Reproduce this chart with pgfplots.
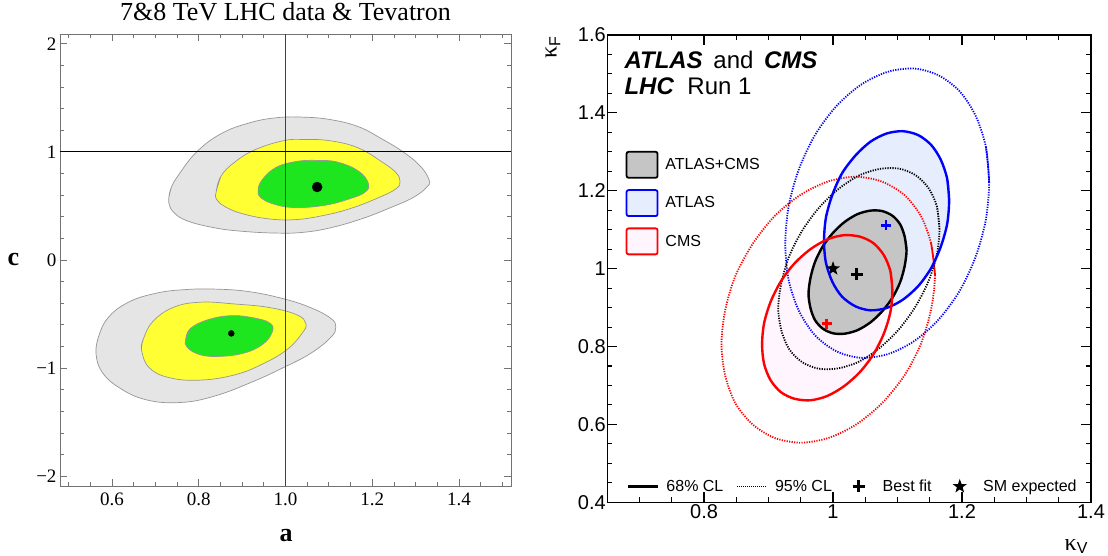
\documentclass[border=0pt]{standalone}
\usepackage{fontspec}
\setmainfont{Liberation Sans}
\newfontfamily\timesfont{Liberation Serif}
\usepackage{pgfplots}
\usepackage{pgfplotstable}
\pgfplotsset{compat=1.18}

\definecolor{mgray}{RGB}{229,229,229}
\definecolor{medge}{RGB}{150,150,150}
\definecolor{myellow}{RGB}{255,255,51}
\definecolor{mgreen}{RGB}{30,230,30}
\definecolor{rgray}{RGB}{197,197,197}
\definecolor{rblue}{RGB}{230,237,252}
\definecolor{rpink}{RGB}{254,245,254}

\pgfdeclareplotmark{fstar}{%
 \pgfpathmoveto{\pgfpointpolar{90}{\pgfplotmarksize}}%
 \pgfpathlineto{\pgfpointpolar{126}{0.4\pgfplotmarksize}}%
 \pgfpathlineto{\pgfpointpolar{162}{\pgfplotmarksize}}%
 \pgfpathlineto{\pgfpointpolar{198}{0.4\pgfplotmarksize}}%
 \pgfpathlineto{\pgfpointpolar{234}{\pgfplotmarksize}}%
 \pgfpathlineto{\pgfpointpolar{270}{0.4\pgfplotmarksize}}%
 \pgfpathlineto{\pgfpointpolar{306}{\pgfplotmarksize}}%
 \pgfpathlineto{\pgfpointpolar{342}{0.4\pgfplotmarksize}}%
 \pgfpathlineto{\pgfpointpolar{18}{\pgfplotmarksize}}%
 \pgfpathlineto{\pgfpointpolar{54}{0.4\pgfplotmarksize}}%
 \pgfpathclose\pgfusepathqfill}

% ---------- left panel contours (a, c) ----------
\pgfplotstableread{
x y
0.731 0.577
0.737 0.675
0.757 0.807
0.796 1.003
0.851 1.167
0.915 1.266
0.978 1.315
1.041 1.321
1.104 1.298
1.168 1.233
1.223 1.118
1.270 1.003
1.310 0.872
1.331 0.741
1.326 0.675
1.294 0.577
1.239 0.479
1.175 0.380
1.104 0.298
1.041 0.256
0.978 0.249
0.899 0.266
0.836 0.298
0.772 0.364
0.741 0.446
0.731 0.528
0.731 0.577
0.737 0.675
}\upGray
\pgfplotstableread{
x y
0.840 0.626
0.851 0.774
0.883 0.905
0.930 1.020
0.994 1.102
1.041 1.115
1.104 1.102
1.168 1.036
1.223 0.905
1.255 0.807
1.264 0.725
1.255 0.659
1.215 0.577
1.152 0.479
1.089 0.413
1.025 0.374
0.962 0.380
0.899 0.430
0.860 0.495
0.841 0.561
0.840 0.626
0.851 0.774
}\upYellow
\pgfplotstableread{
x y
0.937 0.659
0.946 0.741
0.978 0.856
1.025 0.911
1.073 0.921
1.120 0.905
1.168 0.823
1.191 0.708
1.183 0.626
1.144 0.561
1.089 0.505
1.025 0.485
0.978 0.511
0.943 0.577
0.937 0.659
0.946 0.741
}\upGreen
\pgfplotstableread{
x y
0.563 -0.866
0.567 -0.734
0.590 -0.538
0.638 -0.390
0.701 -0.308
0.764 -0.275
0.836 -0.269
0.915 -0.292
0.994 -0.357
1.057 -0.439
1.104 -0.538
1.116 -0.620
1.104 -0.718
1.057 -0.866
0.994 -0.997
0.923 -1.128
0.836 -1.259
0.757 -1.318
0.678 -1.292
0.615 -1.177
0.576 -1.030
0.563 -0.866
0.567 -0.734
}\loGray
\pgfplotstableread{
x y
0.668 -0.833
0.672 -0.734
0.694 -0.570
0.741 -0.439
0.804 -0.390
0.883 -0.407
0.962 -0.439
1.025 -0.505
1.047 -0.587
1.037 -0.685
1.002 -0.833
0.946 -0.964
0.883 -1.062
0.804 -1.111
0.733 -1.089
0.686 -0.997
0.668 -0.833
0.672 -0.734
}\loYellow
\pgfplotstableread{
x y
0.770 -0.734
0.780 -0.636
0.820 -0.554
0.875 -0.515
0.930 -0.538
0.965 -0.587
0.969 -0.669
0.946 -0.784
0.899 -0.866
0.836 -0.892
0.796 -0.866
0.772 -0.800
0.770 -0.734
0.780 -0.636
}\loGreen

% ---------- right panel contours (kappa_V, kappa_F) ----------
\pgfplotstableread{
x y
1.114 1.047
1.111 1.083
1.104 1.114
1.092 1.136
1.076 1.148
1.058 1.149
1.038 1.140
1.018 1.120
1.000 1.092
0.984 1.057
0.972 1.017
0.965 0.976
0.962 0.935
0.965 0.899
0.972 0.868
0.984 0.846
1.000 0.834
1.018 0.833
1.038 0.842
1.058 0.862
1.076 0.890
1.092 0.925
1.104 0.965
1.111 1.006
1.114 1.047
1.111 1.083
}\combS
\pgfplotstableread{
x y
1.180 1.175
1.177 1.231
1.167 1.280
1.152 1.318
1.132 1.343
1.108 1.353
1.083 1.347
1.058 1.326
1.035 1.291
1.014 1.245
0.999 1.190
0.989 1.131
0.986 1.071
0.989 1.015
0.999 0.966
1.014 0.928
1.035 0.903
1.058 0.893
1.083 0.899
1.108 0.920
1.132 0.955
1.152 1.001
1.167 1.056
1.177 1.115
1.180 1.175
1.177 1.231
}\atlasS
\pgfplotstableread{
x y
1.092 0.943
1.089 0.993
1.079 1.034
1.063 1.065
1.042 1.082
1.017 1.086
0.991 1.075
0.965 1.050
0.940 1.013
0.919 0.967
0.903 0.914
0.893 0.859
0.890 0.805
0.893 0.756
0.903 0.714
0.919 0.683
0.940 0.666
0.965 0.662
0.991 0.673
1.017 0.698
1.042 0.735
1.063 0.781
1.079 0.834
1.089 0.889
1.092 0.943
1.089 0.993
}\cmsS
\pgfplotstableread{
x y
1.165 1.101
1.161 1.160
1.148 1.207
1.128 1.240
1.102 1.257
1.072 1.256
1.040 1.239
1.008 1.204
0.978 1.156
0.952 1.097
0.932 1.032
0.920 0.964
0.915 0.899
0.920 0.841
0.932 0.793
0.952 0.760
0.978 0.743
1.008 0.744
1.040 0.761
1.072 0.796
1.102 0.844
1.128 0.903
1.148 0.968
1.161 1.036
1.165 1.101
1.161 1.160
}\combD
\pgfplotstableread{
x y
1.242 1.222
1.237 1.313
1.221 1.393
1.196 1.456
1.163 1.497
1.125 1.514
1.084 1.505
1.043 1.472
1.005 1.417
0.972 1.343
0.947 1.255
0.931 1.159
0.926 1.063
0.931 0.972
0.947 0.892
0.972 0.829
1.005 0.788
1.043 0.771
1.084 0.780
1.125 0.813
1.163 0.868
1.196 0.942
1.221 1.030
1.237 1.126
1.242 1.222
1.237 1.313
}\atlasD
\pgfplotstableread{
x y
1.158 0.983
1.152 1.065
1.136 1.136
1.110 1.190
1.075 1.224
1.035 1.236
0.9925 1.224
0.950 1.190
0.910 1.136
0.876 1.065
0.849 0.983
0.833 0.895
0.827 0.806
0.833 0.724
0.849 0.653
0.876 0.599
0.910 0.565
0.950 0.553
0.9925 0.565
1.035 0.599
1.075 0.653
1.110 0.724
1.136 0.806
1.152 0.895
1.158 0.983
1.152 1.065
}\cmsD

\begin{document}
\begin{tikzpicture}[x=1pt,y=1pt]
\path[use as bounding box] (0,0) rectangle (1108,555);

% ================= LEFT PANEL =================
\begin{axis}[
  at={(60pt,69pt)}, anchor=south west, scale only axis,
  width=451pt, height=452pt,
  xmin=0.48, xmax=1.52, ymin=-2.09, ymax=2.09,
  xtick={0.6,0.8,1,1.2,1.4}, xticklabels={0.6,0.8,1.0,1.2,1.4},
  ytick={-2,-1,0,1,2}, yticklabels={−2,−1,0,1,2},
  minor xtick={0.5,0.55,0.65,0.7,0.75,0.85,0.9,0.95,1.05,1.1,1.15,1.25,1.3,1.35,1.45,1.5},
  minor ytick={-1.8,-1.6,-1.4,-1.2,-0.8,-0.6,-0.4,-0.2,0.2,0.4,0.6,0.8,1.2,1.4,1.6,1.8},
  tick align=inside, major tick length=7pt, minor tick length=4pt,
  axis line style={draw=black!55, line width=0.9pt},
  every tick/.style={black!55, line width=0.8pt},
  /pgf/number format/assume math mode=true,
  ticklabel style={font=\timesfont\fontsize{19}{22}\selectfont},
  xticklabel style={yshift=-3pt},
]
\addplot[smooth, tension=0.7, fill=mgray, draw=medge, line width=0.7pt] table {\upGray};
\addplot[smooth, tension=0.7, fill=myellow, draw=medge, line width=0.7pt] table {\upYellow};
\addplot[smooth, tension=0.7, fill=mgreen, draw=medge, line width=0.7pt] table {\upGreen};
\addplot[smooth, tension=0.7, fill=mgray, draw=medge, line width=0.7pt] table {\loGray};
\addplot[smooth, tension=0.7, fill=myellow, draw=medge, line width=0.7pt] table {\loYellow};
\addplot[smooth, tension=0.7, fill=mgreen, draw=medge, line width=0.7pt] table {\loGreen};
\addplot[black!75, line width=0.8pt] coordinates {(1,-2.09) (1,2.09)};
\addplot[black, line width=0.8pt] coordinates {(0.48,1) (1.52,1)};
\addplot[only marks, mark=*, mark size=5pt, black] coordinates {(1.073,0.675)};
\addplot[only marks, mark=*, mark size=3pt, black] coordinates {(0.875,-0.679)};
\end{axis}

\node[anchor=base, font=\timesfont\fontsize{26}{30}\selectfont] at (285.5,534) {7\&8 TeV LHC data \& Tevatron};
\node[anchor=base, font=\timesfont\bfseries\fontsize{26}{30}\selectfont] at (286,13.3) {a};
\node[anchor=base, font=\timesfont\bfseries\fontsize{26}{30}\selectfont] at (13.3,290) {c};

% ================= RIGHT PANEL =================
\begin{axis}[
  at={(607.3pt,52.7pt)}, anchor=south west, scale only axis,
  width=483.7pt, height=467.3pt,
  xmin=0.65, xmax=1.4, ymin=0.4, ymax=1.6,
  xtick={0.8,1,1.2,1.4}, xticklabels={0.8,1,1.2,1.4},
  ytick={0.4,0.6,0.8,1,1.2,1.4,1.6}, yticklabels={0.4,0.6,0.8,1,1.2,1.4,1.6},
  minor xtick={0.7,0.75,0.85,0.9,0.95,1.05,1.1,1.15,1.25,1.3,1.35},
  minor ytick={0.45,0.5,0.55,0.65,0.7,0.75,0.85,0.9,0.95,1.05,1.1,1.15,1.25,1.3,1.35,1.45,1.5,1.55},
  tick align=inside, major tick length=10pt, minor tick length=5pt,
  axis line style={line width=1.4pt},
  every tick/.style={black, line width=1.1pt},
  /pgf/number format/assume math mode=true,
  ticklabel style={font=\fontsize{20}{24}\selectfont},
  xticklabel style={yshift=1pt},
  yticklabel style={xshift=2pt},
  legend cell align=left,
  legend style={at={(0.0407,0.035)}, anchor=west, draw=none, fill=none,
    inner sep=0pt, outer sep=0pt, font=\fontsize{16}{19}\selectfont,
    nodes={inner sep=0pt},
    /tikz/column 1/.style={column sep=7.3pt},
    /tikz/column 2/.style={column sep=12.8pt},
    /tikz/column 3/.style={column sep=7.3pt},
    /tikz/column 4/.style={column sep=20.8pt},
    /tikz/column 5/.style={column sep=18pt},
    /tikz/column 6/.style={column sep=21pt},
    /tikz/column 7/.style={column sep=16.3pt}},
  legend columns=4,
]
% fills
\addplot[smooth, fill=rblue, draw=none, forget plot] table {\atlasS};
\addplot[smooth, fill=rpink, draw=none, forget plot] table {\cmsS};
\addplot[smooth, fill=rgray, draw=none, forget plot] table {\combS};
% 95% CL dotted
\addplot[smooth, red, line width=1.8pt, dash pattern=on 1.2pt off 1.3pt, forget plot] table {\cmsD};
\addplot[smooth, blue, line width=1.8pt, dash pattern=on 1.2pt off 1.3pt, forget plot] table {\atlasD};
\addplot[smooth, black, line width=1.8pt, dash pattern=on 1.2pt off 1.3pt, forget plot] table {\combD};
% 68% CL solid
\addplot[smooth, black, line width=2.4pt, forget plot] table {\combS};
\addplot[smooth, blue, line width=2.4pt, forget plot] table {\atlasS};
\addplot[smooth, red, line width=2.4pt, forget plot] table {\cmsS};
% best fits and SM
\addplot[only marks, mark=+, mark size=5pt, line width=2.4pt, blue, forget plot] coordinates {(1.082,1.111)};
\addplot[only marks, mark=+, mark size=5pt, line width=2.4pt, red, forget plot] coordinates {(0.990,0.859)};
\addplot[only marks, mark=+, mark size=6pt, line width=3pt, black, forget plot] coordinates {(1.037,0.985)};
\addplot[only marks, mark=fstar, mark size=7.5pt, black, forget plot] coordinates {(1,1)};
% bottom legend
\addlegendimage{legend image code/.code={\draw[black, line width=2.2pt] (0pt,0pt) -- (30pt,0pt);}}
\addlegendentry{68\% CL}
\addlegendimage{legend image code/.code={\draw[black, line width=1.5pt, dash pattern=on 1pt off 1pt] (0pt,0pt) -- (30pt,0pt);}}
\addlegendentry{95\% CL}
\addlegendimage{legend image code/.code={\path[draw=none, fill=none] (0pt,-6pt) rectangle (12pt,6pt); \draw[black, line width=3pt, only marks, mark=+, mark size=6pt] plot coordinates {(6pt,0pt)};}}
\addlegendentry{Best fit}
\addlegendimage{legend image code/.code={\path[draw=none, fill=none] (0pt,-6pt) rectangle (12pt,6pt); \draw[black, fill=black, only marks, mark=fstar, mark size=7.5pt] plot coordinates {(6pt,0pt)};}}
\addlegendentry{SM expected}
\end{axis}

% overlay axis carrying the filled-box legend
\begin{axis}[
  at={(607.3pt,52.7pt)}, anchor=south west, scale only axis,
  width=483.7pt, height=467.3pt,
  xmin=0.65, xmax=1.4, ymin=0.4, ymax=1.6, hide axis,
  legend cell align=left,
  legend style={at={(0.038,0.752)}, anchor=north west, draw=none, fill=none,
    inner sep=0pt, outer sep=0pt, font=\fontsize{16}{19}\selectfont,
    nodes={inner sep=0pt}, row sep=10.5pt,
    /tikz/every odd column/.style={column sep=7pt}},
]
\addlegendimage{legend image code/.code={\draw[fill=rgray, draw=black, line width=1.8pt, rounded corners=2pt] (0pt,-13pt) rectangle (31pt,13pt);}}
\addlegendentry{ATLAS+CMS}
\addlegendimage{legend image code/.code={\draw[fill=rblue, draw=blue, line width=1.8pt, rounded corners=2pt] (0pt,-13pt) rectangle (31pt,13pt);}}
\addlegendentry{ATLAS}
\addlegendimage{legend image code/.code={\draw[fill=rpink, draw=red, line width=1.8pt, rounded corners=2pt] (0pt,-13pt) rectangle (31pt,13pt);}}
\addlegendentry{CMS}
\end{axis}

\node[anchor=base west, font=\fontsize{24}{28}\selectfont] at (621,486.7) {\textbf{\textit{ATLAS}} \,and\, \textbf{\textit{CMS}}};
\node[anchor=base west, font=\fontsize{24}{28}\selectfont] at (621,460) {\textbf{\textit{LHC}}\ \ Run 1};
\node[rotate=90, anchor=east, font=\fontsize{24}{28}\selectfont] at (553,522) {{\timesfont κ}\raisebox{-0.3ex}{\fontsize{16}{18}\selectfont F}};
\node[anchor=base east, font=\fontsize{24}{28}\selectfont] at (1091,5) {{\timesfont κ}\raisebox{-0.3ex}{\fontsize{16}{18}\selectfont V}};
\end{tikzpicture}
\end{document}
